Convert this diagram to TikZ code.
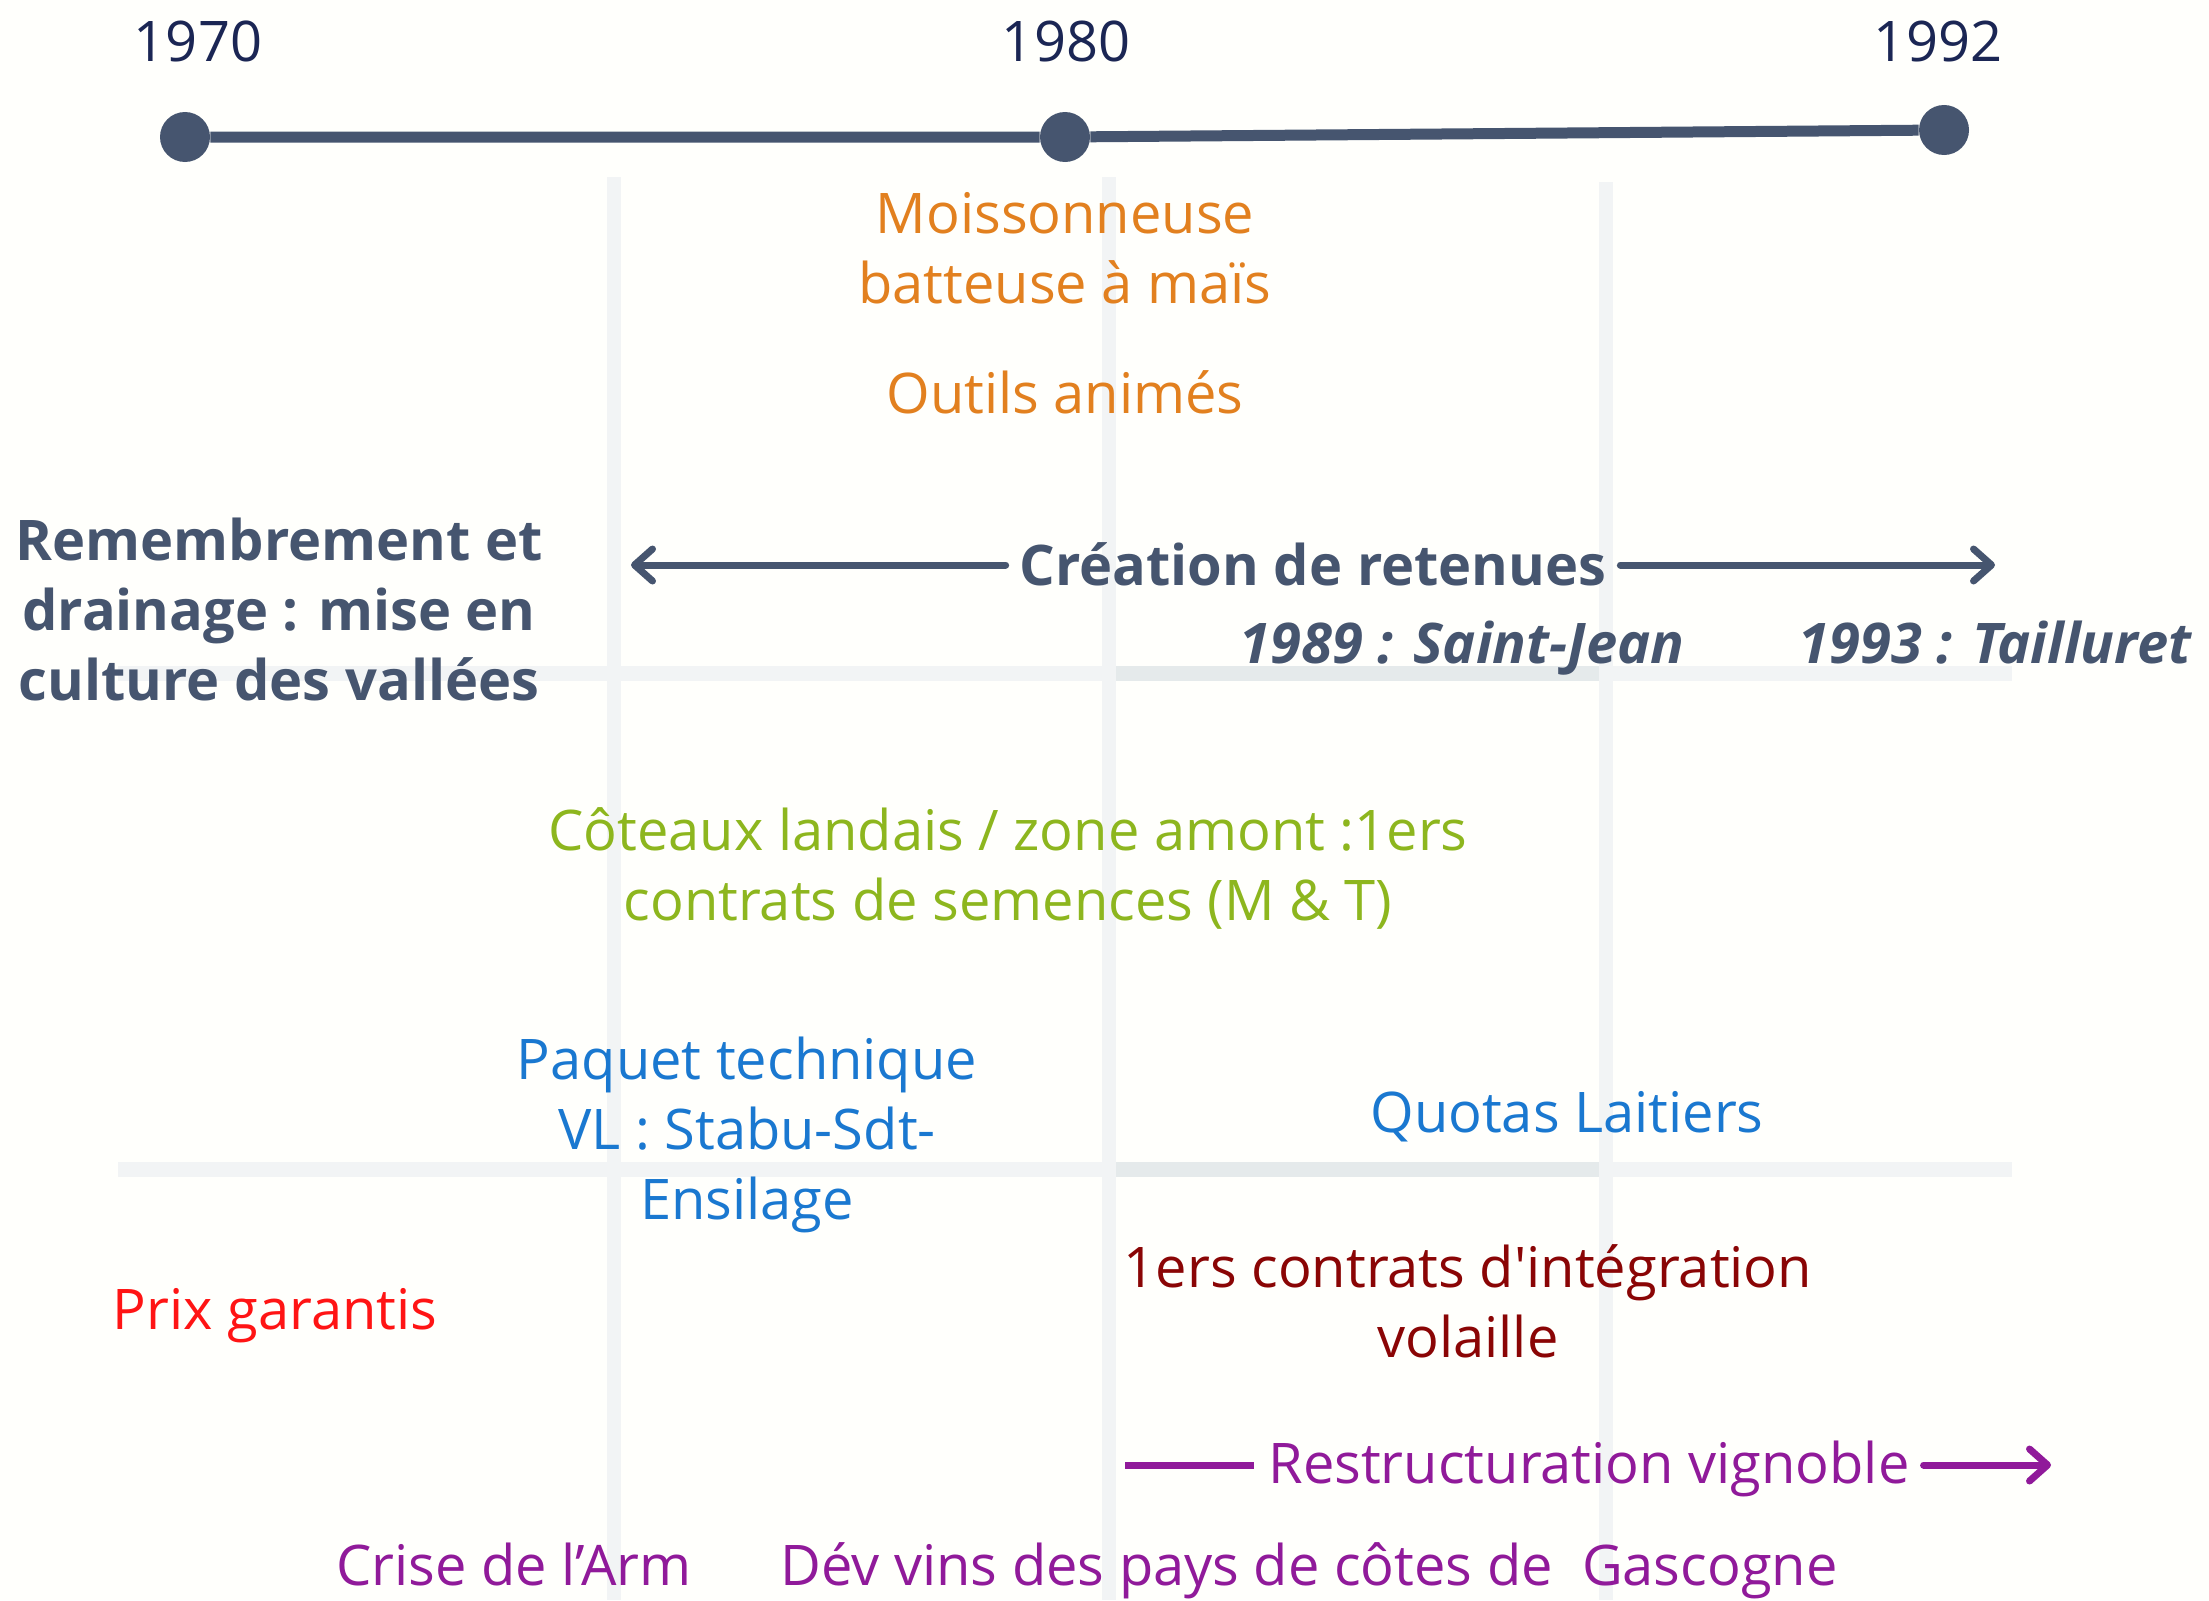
\documentclass[tikz,border=0pt]{standalone}
\usepackage{fontspec}
\setmainfont{Open Sans}[Ligatures=TeXOff]
\usetikzlibrary{arrows.meta}
\definecolor{bg}{HTML}{FFFFFC}
\definecolor{gridc}{HTML}{F2F4F5}
\definecolor{gridd}{HTML}{E5EAEB}
\definecolor{slate}{HTML}{46556F}
\definecolor{navy}{HTML}{1B2654}
\definecolor{orangec}{HTML}{E2801F}
\definecolor{greenc}{HTML}{8DB61E}
\definecolor{bluec}{HTML}{1A78D0}
\definecolor{redc}{HTML}{FF1414}
\definecolor{darkredc}{HTML}{8A0505}
\definecolor{purplec}{HTML}{901A9A}
\newcommand{\ml}[1]{\begin{tabular}[t]{@{}c@{}}#1\end{tabular}}
\begin{document}
\begin{tikzpicture}[x=0.5pt,y=-0.5pt,
  txt/.style={inner sep=0pt, anchor=base, font=\fontsize{28}{35}\selectfont},
  btxt/.style={txt, font=\fontsize{28}{35}\selectfont\bfseries},
  bitxt/.style={txt, font=\fontsize{28}{35}\selectfont\bfseries\itshape},
  vgrid/.style={draw=gridc, line width=7pt},
  hgrid/.style={draw=gridc, line width=7.5pt},
  hgridd/.style={draw=gridd, line width=7.5pt},
  dot/.style={circle, fill=slate, inner sep=0pt, minimum size=25pt},
  tl/.style={draw=slate, line width=5.5pt},
  arrline/.style={line width=3.5pt, line cap=round},
  tip/.style={-{Straight Barb[length=9pt,width=16pt,round]}}
]
\fill[bg] (0,0) rectangle (2209,1600);
\useasboundingbox (0,0) rectangle (2209,1600);

% grid
\draw[vgrid] (614,177) -- (614,1600);
\draw[vgrid] (1109,177) -- (1109,1600);
\draw[vgrid] (1606,182) -- (1606,1600);
\draw[hgrid] (118,673) -- (2012,673);
\draw[hgrid] (118,1169) -- (2012,1169);
\draw[hgridd] (1116,673) -- (1599,673);
\draw[hgridd] (1116,1169) -- (1599,1169);

% timeline
\node[dot] (d1970) at (185,137) {};
\node[dot] (d1980) at (1065,137) {};
\node[dot] (d1992) at (1944,130) {};
\draw[tl] (d1970) -- (d1980) -- (d1992);
\node[txt, text=navy] (y1970) at (198,62) {1970};
\node[txt, text=navy] (y1980) at (1066,62) {1980};
\node[txt, text=navy] (y1992) at (1938,62) {1992};

% orange
\node[txt, text=orangec] (moiss) at (1065,233) {\ml{Moissonneuse\\batteuse à maïs}};
\node[txt, text=orangec] (outils) at (1065,413) {Outils animés};

% slate
\node[btxt, text=slate] (remb) at (279,560) {\ml{Remembrement et\\drainage : mise en\\culture des vallées}};
\node[btxt, text=slate, outer xsep=7pt] (cre) at (1313,585) {Création de retenues};
\coordinate (creL) at (631,565);
\coordinate (creR) at (1995,565);
\draw[arrline, slate, tip] (cre.west |- creL) -- (creL);
\draw[arrline, slate, tip] (cre.east |- creR) -- (creR);
\node[bitxt, text=slate] (sj) at (1462,663) {1989 : Saint-Jean};
\node[bitxt, text=slate] (tl93) at (1995,663) {1993 : Tailluret};

% green
\node[txt, text=greenc] (cot) at (1008,850) {\ml{Côteaux landais / zone amont :1ers\\contrats de semences (M \& T)}};

% blue
\node[txt, text=bluec] (paq) at (747,1079) {\ml{Paquet technique\\VL : Stabu-Sdt-\\Ensilage}};
\node[txt, text=bluec] (quot) at (1567,1132) {Quotas Laitiers};

% red
\node[txt, text=redc] (prix) at (275,1329) {Prix garantis};
\node[txt, text=darkredc] (vol) at (1468,1287) {\ml{1ers contrats d'intégration\\volaille}};

% purple
\node[txt, text=purplec, outer xsep=7pt] (res) at (1589,1483) {Restructuration vignoble};
\coordinate (resL) at (1125,1465);
\coordinate (resR) at (2051,1465);
\draw[arrline, purplec, line cap=butt] (resL) -- (res.west |- resL);
\draw[arrline, purplec, tip] (res.east |- resR) -- (resR);
\node[txt, text=purplec] (crise) at (514,1585) {Crise de l’Arm};
\node[txt, text=purplec] (dev) at (1309,1585) {Dév vins des pays de côtes de\ \ Gascogne};
\end{tikzpicture}
\end{document}
